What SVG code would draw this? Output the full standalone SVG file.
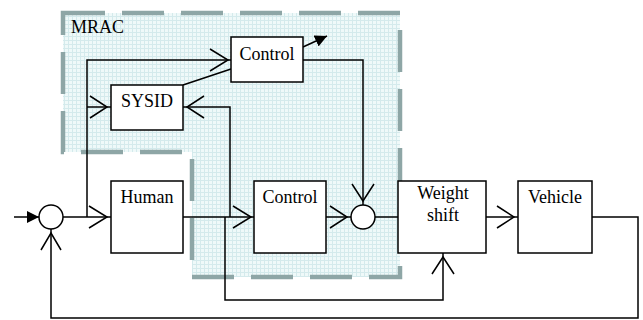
<svg xmlns="http://www.w3.org/2000/svg" width="643" height="320" viewBox="0 0 643 320">
<defs>
<pattern id="grid" width="4" height="4" patternUnits="userSpaceOnUse">
<rect width="4" height="4" fill="#eff9f9"/>
<rect x="0" y="0" width="4" height="1" fill="#d4eaec"/>
<rect x="0" y="0" width="1" height="4" fill="#d4eaec"/>
</pattern>
<marker id="filled" viewBox="0 0 10 10" refX="10" refY="5" markerWidth="12" markerHeight="12" markerUnits="userSpaceOnUse" orient="auto">
<path d="M0,0 L10,5 L0,10 Z" fill="#000"/>
</marker>
</defs>
<style>
.box{fill:#fff;stroke:#000;stroke-width:1.5}
.ln{fill:none;stroke:#000;stroke-width:1.5}
.t{font-family:"Liberation Serif","Times New Roman",serif;font-size:18px;fill:#000;text-anchor:middle}
</style>
<g id="mrac">
<path d="M63,13 L400,13 L400,277 L192,277 L192,152 L63,152 Z" fill="url(#grid)" stroke="#8ea6a6" stroke-width="4.5" stroke-dasharray="42,17"/>
<text x="71" y="33" class="t" style="text-anchor:start">MRAC</text>
</g>
<g id="connectors">
<path class="ln" d="M14,217 L39,217" marker-end="url(#filled)"/>
<path class="ln" d="M63,217 L111,217"/>
<path class="ln" d="M89,206 L107,217 L89,228"/>
<path class="ln" d="M87,217 L87,60 L231,60"/>
<path class="ln" d="M210,49 L228,60 L210,71"/>
<path class="ln" d="M87,107 L111,107"/>
<path class="ln" d="M90,96 L107,107 L90,118"/>
<path class="ln" d="M183,85 L231,69"/>
<path class="ln" d="M303,47 L327,36" marker-end="url(#filled)"/>
<path class="ln" d="M303,60 L363,60 L363,205"/>
<path class="ln" d="M352,184 L363,201 L374,184"/>
<path class="ln" d="M183,217 L254,217"/>
<path class="ln" d="M233,206 L251,217 L233,228"/>
<path class="ln" d="M230,217 L230,107 L183,107"/>
<path class="ln" d="M204,96 L187,107 L204,118"/>
<path class="ln" d="M225,217 L225,300 L443,300 L443,253"/>
<path class="ln" d="M432,274 L443,257 L454,274"/>
<path class="ln" d="M326,217 L351,217"/>
<path class="ln" d="M330,206 L347,217 L330,228"/>
<path class="ln" d="M375,217 L398,217"/>
<path class="ln" d="M486,217 L518,217"/>
<path class="ln" d="M497,206 L514,217 L497,228"/>
<path class="ln" d="M592,217 L638,217 L638,318 L51,318 L51,229"/>
<path class="ln" d="M41,250 L51,233 L61,250"/>
</g>
<g id="sum1"><circle cx="51" cy="217" r="12" class="box"/></g>
<g id="sum2"><circle cx="363" cy="217" r="12" class="box"/></g>
<g id="control-top"><rect x="231" y="37" width="72" height="45" class="box"/><text x="267" y="60" class="t">Control</text></g>
<g id="sysid"><rect x="111" y="85" width="72" height="45" class="box"/><text x="147" y="107" class="t">SYSID</text></g>
<g id="human"><rect x="111" y="181" width="72" height="72" class="box"/><text x="147" y="203" class="t">Human</text></g>
<g id="control-mid"><rect x="254" y="181" width="72" height="72" class="box"/><text x="290" y="203" class="t">Control</text></g>
<g id="weight-shift"><rect x="398" y="181" width="88" height="72" class="box"/><text x="443" y="199" class="t">Weight</text><text x="443" y="221" class="t">shift</text></g>
<g id="vehicle"><rect x="518" y="181" width="74" height="72" class="box"/><text x="555" y="203" class="t">Vehicle</text></g>
</svg>
